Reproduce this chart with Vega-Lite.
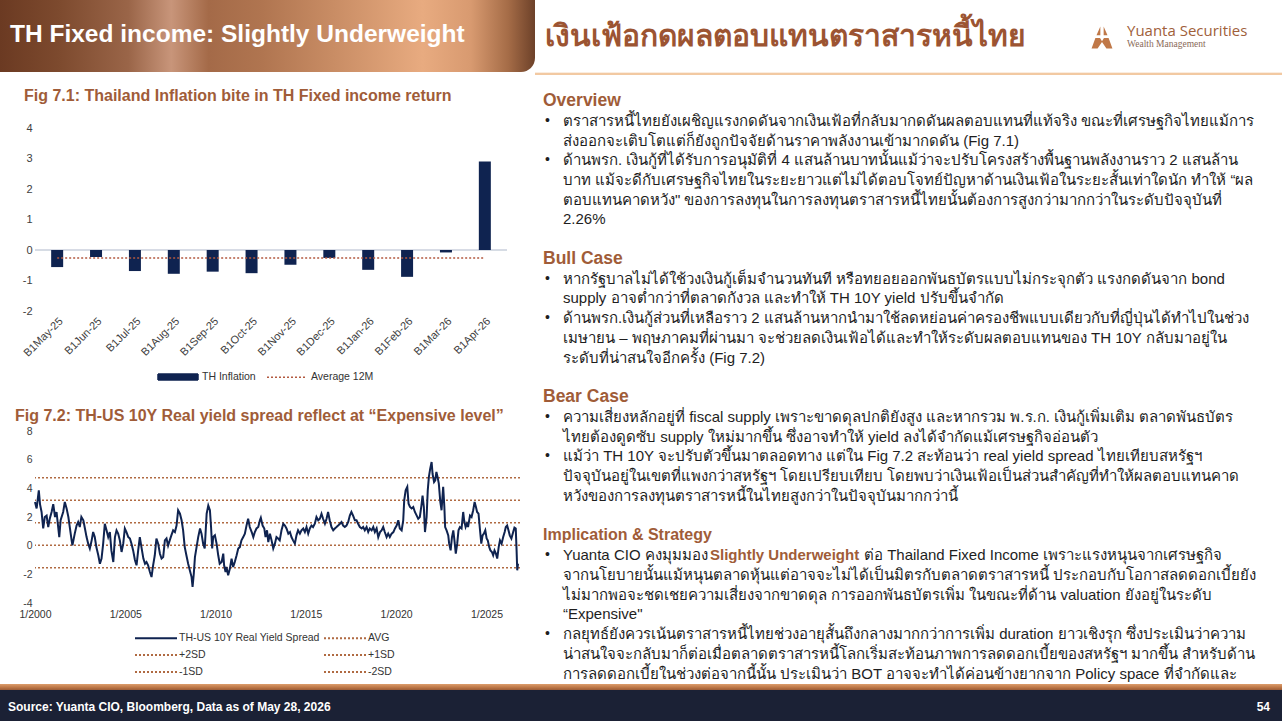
{
  "$schema": "https://vega.github.io/schema/vega-lite/v6.json",
  "background": "white",
  "padding": 0,
  "spacing": 0,
  "config": {
    "view": {"stroke": null},
    "font": "Liberation Sans",
    "axis": {"labelFont": "Liberation Sans", "labelColor": "#404040", "ticks": false, "domain": false, "grid": false, "labelOverlap": false}
  },
  "vconcat": [
    {
      "spacing": 13,
      "vconcat": [
        {
          "spacing": 0,
          "hconcat": [
            {
              "width": 535, "height": 72,
              "data": {"values": [{}]},
              "title": {"text": "TH Fixed income: Slightly Underweight", "anchor": "start", "frame": "group", "orient": "top", "offset": -47, "dx": 10, "color": "white", "fontSize": 24.5, "fontWeight": "bold", "font": "Liberation Sans"},
              "mark": {"type": "rect", "cornerRadiusBottomRight": 14, "color": {"gradient": "linear", "x1": 0, "y1": 0, "x2": 1, "y2": 0, "stops": [
                {"offset": 0, "color": "#6b3a22"}, {"offset": 0.11, "color": "#7d4a2e"}, {"offset": 0.24, "color": "#9a6548"}, {"offset": 0.32, "color": "#c8957a"}, {"offset": 0.39, "color": "#a46a48"}, {"offset": 0.49, "color": "#b07550"}, {"offset": 0.62, "color": "#c88c64"}, {"offset": 0.79, "color": "#e8ab80"}, {"offset": 0.88, "color": "#d89a70"}, {"offset": 0.95, "color": "#a56c47"}, {"offset": 1, "color": "#6d4129"}]}},
              "encoding": {}
            },
            {
              "width": 552, "height": 75,
              "data": {"values": [{}]},
              "title": {"text": "เงินเฟ้อกดผลตอบแทนตราสารหนี้ไทย", "anchor": "start", "frame": "group", "orient": "top", "offset": -52, "dx": 10, "color": "#9c5432", "fontSize": 30, "fontWeight": "bold", "font": "Liberation Sans"},
              "mark": {"type": "rect", "color": {"gradient": "linear", "x1": 0, "y1": 0, "x2": 0, "y2": 1, "stops": [{"offset": 0, "color": "#ffffff"}, {"offset": 0.965, "color": "#ffffff"}, {"offset": 0.97, "color": "#f2c9a2"}, {"offset": 1, "color": "#f2c9a2"}]}},
              "encoding": {}
            },
            {
              "width": 30, "height": 75,
              "data": {"values": [{}]},
              "layer": [
                {"mark": {"type": "rect", "color": {"gradient": "linear", "x1": 0, "y1": 0, "x2": 0, "y2": 1, "stops": [{"offset": 0, "color": "#ffffff"}, {"offset": 0.965, "color": "#ffffff"}, {"offset": 0.97, "color": "#f2c9a2"}, {"offset": 1, "color": "#f2c9a2"}]}}, "encoding": {}},
                {"mark": {"type": "point", "filled": true, "opacity": 1, "color": "#c07848", "size": 484, "shape": "M-0.15,-1L-0.5,-0.2L-0.15,-0.2Z M0.15,-1L0.5,-0.2L0.15,-0.2Z M-0.6,0.05L-0.95,1L-0.4,1L0,0.4L0.4,1L0.95,1L0.6,0.05L0.18,0.05L0,0.35L-0.18,0.05Z"}, "encoding": {}}
              ]
            },
            {
              "width": 165, "height": 75,
              "data": {"values": [{}]},
              "title": {"text": "Yuanta Securities", "subtitle": "Wealth Management", "anchor": "start", "frame": "group", "orient": "top", "offset": -48, "dx": 10, "color": "#a0603a", "fontSize": 15, "fontWeight": "normal", "font": "Open Sans", "subtitleFont": "Liberation Serif", "subtitleFontSize": 9.5, "subtitleColor": "#8a6a58", "subtitlePadding": 0},
              "mark": {"type": "rect", "color": {"gradient": "linear", "x1": 0, "y1": 0, "x2": 0, "y2": 1, "stops": [{"offset": 0, "color": "#ffffff"}, {"offset": 0.965, "color": "#ffffff"}, {"offset": 0.97, "color": "#f2c9a2"}, {"offset": 1, "color": "#f2c9a2"}]}},
              "encoding": {}
            }
          ]
        },
        {
          "spacing": 14,
          "hconcat": [
            {
              "width": 1, "height": 10,
              "data": {"values": [{}]},
              "mark": {"type": "rect", "color": "white"},
              "encoding": {}
            },
            {
              "spacing": 25,
              "bounds": "full",
              "resolve": {"scale": {"color": "independent"}, "legend": {"color": "independent"}},
              "vconcat": [
                {
                  "width": 472, "height": 183,
                  "title": {"text": "Fig 7.1: Thailand Inflation bite in TH Fixed income return", "anchor": "start", "frame": "group", "dx": -11, "offset": 18, "fontSize": 16, "fontWeight": "bold", "font": "Liberation Sans", "color": "#a05c38"},
                  "data": {"values": [
                    {"month": "B1May-25", "value": -0.56},
                    {"month": "B1Jun-25", "value": -0.23},
                    {"month": "B1Jul-25", "value": -0.69},
                    {"month": "B1Aug-25", "value": -0.78},
                    {"month": "B1Sep-25", "value": -0.71},
                    {"month": "B1Oct-25", "value": -0.76},
                    {"month": "B1Nov-25", "value": -0.48},
                    {"month": "B1Dec-25", "value": -0.26},
                    {"month": "B1Jan-26", "value": -0.65},
                    {"month": "B1Feb-26", "value": -0.88},
                    {"month": "B1Mar-26", "value": -0.08},
                    {"month": "B1Apr-26", "value": 2.9}
                  ]},
                  "layer": [
                    {"mark": {"type": "rule", "color": "#d6dbe4", "strokeWidth": 1},
                     "encoding": {"y": {"datum": 0, "type": "quantitative", "scale": {"domain": [-2, 4], "nice": false}, "axis": {"title": null, "values": [-2, -1, 0, 1, 2, 3, 4], "labelExpr": "'' + datum.value", "labelFontSize": 11, "labelPadding": 3}}}},
                    {
                      "mark": {"type": "bar", "width": 12},
                      "encoding": {
                        "x": {"field": "month", "type": "ordinal", "sort": null, "scale": {"paddingInner": 0, "paddingOuter": 0.07}, "axis": {"title": null, "labelAngle": -45, "labelFontSize": 11, "labelPadding": 4}},
                        "y": {"field": "value", "type": "quantitative", "scale": {"domain": [-2, 4], "nice": false}, "axis": {"title": null, "values": [-2, -1, 0, 1, 2, 3, 4], "labelExpr": "'' + datum.value", "labelFontSize": 11, "labelPadding": 3}},
                        "color": {"datum": "TH Inflation", "type": "nominal", "scale": {"domain": ["TH Inflation", "Average 12M"], "range": ["#0f2350", "#b35a40"]},
                          "legend": {"orient": "none", "legendX": 122, "legendY": 228, "direction": "horizontal", "title": null, "padding": 0, "labelFontSize": 10.5, "labelColor": "#333333", "labelFont": "Liberation Sans", "symbolSize": 1600, "symbolStrokeWidth": 1.5, "labelOffset": 3, "columnPadding": 8, "symbolType": "stroke",
                            "encode": {"symbols": {"update": {
                              "shape": {"signal": "datum.value === 'TH Inflation' ? 'M-1,-0.15L1,-0.15L1,0.15L-1,0.15Z' : 'stroke'"},
                              "fill": {"signal": "datum.value === 'TH Inflation' ? '#0f2350' : 'transparent'"},
                              "stroke": {"signal": "datum.value === 'TH Inflation' ? '#0f2350' : '#b35a40'"},
                              "strokeDash": {"signal": "datum.value === 'TH Inflation' ? [1,0] : [2,2]"},
                              "opacity": {"value": 1}
                            }}}}}
                      }
                    },
                    {
                      "transform": [{"joinaggregate": [{"op": "mean", "field": "value", "as": "avg"}]}],
                      "mark": {"type": "line", "strokeDash": [2, 2], "strokeWidth": 1.5},
                      "encoding": {
                        "x": {"field": "month", "type": "ordinal", "sort": null},
                        "y": {"field": "avg", "type": "quantitative", "axis": {"title": null, "values": [-2, -1, 0, 1, 2, 3, 4], "labelExpr": "'' + datum.value", "labelFontSize": 11, "labelPadding": 3}},
                        "color": {"datum": "Average 12M", "type": "nominal"}
                      }
                    }
                  ]
                },
                {
                  "width": 485, "height": 172,
                  "title": {"text": "Fig 7.2: TH-US 10Y Real yield spread reflect at “Expensive level”", "anchor": "start", "frame": "group", "dx": -20, "offset": 2, "fontSize": 16, "fontWeight": "bold", "font": "Liberation Sans", "color": "#a05c38"},
                  "layer": [
                    {
                      "data": {"values": [
                        {"name": "AVG", "value": 1.6},
                        {"name": "+2SD", "value": 4.74},
                        {"name": "+1SD", "value": 3.17},
                        {"name": "-1SD", "value": 0.03},
                        {"name": "-2SD", "value": -1.54}
                      ]},
                      "mark": {"type": "rule", "strokeDash": [2, 2], "strokeWidth": 1.5},
                      "encoding": {
                        "y": {"field": "value", "type": "quantitative", "scale": {"domain": [-4, 8], "nice": false}, "axis": {"title": null, "values": [-4, -2, 0, 2, 4, 6, 8], "labelExpr": "'' + datum.value", "labelFontSize": 10.5, "labelPadding": 3}},
                        "color": {"field": "name", "type": "nominal", "title": null,
                          "scale": {"domain": ["TH-US 10Y Real Yield Spread", "AVG", "+2SD", "+1SD", "-1SD", "-2SD"], "range": ["#0f2350", "#b06a42", "#b06a42", "#b06a42", "#b06a42", "#b06a42"]},
                          "legend": {"orient": "none", "legendX": 100, "legendY": 201, "direction": "horizontal", "columns": 2, "title": null, "padding": 0, "labelFontSize": 10.5, "labelColor": "#333333", "labelFont": "Liberation Sans", "symbolType": "M-4.2,0L4.2,0", "symbolSize": 100, "symbolStrokeWidth": 2, "symbolOffset": 15, "labelOffset": 17, "columnPadding": 0, "rowPadding": 5,
                            "encode": {"symbols": {"update": {
                              "strokeDash": {"signal": "datum.value === 'TH-US 10Y Real Yield Spread' ? [1,0] : [2,2]"},
                              "opacity": {"value": 1}
                            }}}}}
                      }
                    },
                    {
                      "data": {"values": [
{"date":"2000-01-01","value":3.05},{"date":"2000-02-03","value":2.6},{"date":"2000-03-18","value":3.86},{"date":"2000-04-11","value":2.9},{"date":"2000-05-13","value":2.35},{"date":"2000-06-15","value":1.2},{"date":"2000-07-17","value":2.0},{"date":"2000-08-23","value":2.1},{"date":"2000-09-25","value":1.3},{"date":"2000-10-27","value":1.9},{"date":"2000-12-02","value":2.35},
{"date":"2001-01-04","value":2.9},{"date":"2001-02-09","value":2.0},{"date":"2001-03-12","value":2.35},{"date":"2001-04-14","value":1.3},{"date":"2001-05-06","value":0.6},{"date":"2001-06-02","value":1.77},{"date":"2001-07-24","value":2.35},{"date":"2001-08-26","value":3.05},{"date":"2001-10-01","value":2.6},{"date":"2001-11-06","value":2.0},{"date":"2001-12-08","value":1.2},
{"date":"2002-01-11","value":0.37},{"date":"2002-01-27","value":0.02},{"date":"2002-03-15","value":0.84},{"date":"2002-04-21","value":1.4},{"date":"2002-05-23","value":1.65},{"date":"2002-06-25","value":1.3},{"date":"2002-07-27","value":2.0},{"date":"2002-09-05","value":1.77},{"date":"2002-10-07","value":1.2},{"date":"2002-11-09","value":0.6},{"date":"2002-12-12","value":0.14},
{"date":"2003-01-14","value":-0.2},{"date":"2003-02-20","value":0.37},{"date":"2003-03-22","value":0.95},{"date":"2003-04-24","value":0.6},{"date":"2003-05-26","value":-0.1},{"date":"2003-07-04","value":-0.67},{"date":"2003-08-06","value":-1.26},{"date":"2003-09-08","value":-0.9},{"date":"2003-10-11","value":0.14},{"date":"2003-11-13","value":1.53},{"date":"2003-12-18","value":1.07},
{"date":"2004-01-21","value":0.6},{"date":"2004-02-23","value":0.95},{"date":"2004-03-25","value":-0.33},{"date":"2004-05-03","value":-1.14},{"date":"2004-06-05","value":0.6},{"date":"2004-07-07","value":1.07},{"date":"2004-08-09","value":0.84},{"date":"2004-09-12","value":0.37},{"date":"2004-10-17","value":-0.44},{"date":"2004-11-20","value":0.14},{"date":"2004-12-22","value":1.2},
{"date":"2005-01-24","value":0.95},{"date":"2005-03-02","value":0.6},{"date":"2005-04-04","value":0.5},{"date":"2005-05-06","value":0.14},{"date":"2005-06-08","value":-0.33},{"date":"2005-07-14","value":-1.0},{"date":"2005-08-16","value":-1.37},{"date":"2005-09-18","value":-0.33},{"date":"2005-10-21","value":0.6},{"date":"2005-11-23","value":-0.1},
{"date":"2006-01-01","value":-0.9},{"date":"2006-02-03","value":-1.26},{"date":"2006-03-05","value":-1.14},{"date":"2006-04-07","value":-1.37},{"date":"2006-05-13","value":-1.84},{"date":"2006-06-15","value":-2.19},{"date":"2006-07-17","value":-1.37},{"date":"2006-08-20","value":-0.67},{"date":"2006-09-22","value":0.5},{"date":"2006-10-27","value":0.14},{"date":"2006-12-02","value":-0.56},
{"date":"2007-01-04","value":-0.9},{"date":"2007-02-06","value":-0.8},{"date":"2007-03-12","value":0.37},{"date":"2007-04-14","value":0.5},{"date":"2007-05-16","value":0.0},{"date":"2007-06-18","value":0.37},{"date":"2007-07-21","value":0.72},{"date":"2007-08-26","value":1.07},{"date":"2007-10-01","value":0.95},{"date":"2007-11-03","value":1.4},{"date":"2007-12-05","value":2.47},
{"date":"2008-01-11","value":2.23},{"date":"2008-02-13","value":1.77},{"date":"2008-03-15","value":1.07},{"date":"2008-04-17","value":-0.1},{"date":"2008-05-20","value":-0.67},{"date":"2008-06-25","value":-1.26},{"date":"2008-07-27","value":-1.7},{"date":"2008-09-02","value":-2.19},{"date":"2008-09-22","value":-2.88},{"date":"2008-10-17","value":-1.95},{"date":"2008-11-09","value":-0.8},{"date":"2008-12-12","value":-0.1},
{"date":"2009-01-14","value":0.6},{"date":"2009-02-20","value":1.2},{"date":"2009-03-22","value":0.84},{"date":"2009-04-24","value":0.14},{"date":"2009-05-26","value":-0.2},{"date":"2009-07-04","value":2.23},{"date":"2009-08-06","value":2.8},{"date":"2009-09-08","value":2.47},{"date":"2009-10-01","value":1.3},{"date":"2009-10-24","value":-0.2},{"date":"2009-11-13","value":0.6},{"date":"2009-12-18","value":0.72},
{"date":"2010-01-21","value":0.14},{"date":"2010-02-23","value":-0.67},{"date":"2010-03-25","value":-1.26},{"date":"2010-05-03","value":-1.14},{"date":"2010-06-05","value":-0.56},{"date":"2010-06-22","value":-1.37},{"date":"2010-07-21","value":-1.84},{"date":"2010-08-09","value":-1.49},{"date":"2010-09-12","value":-2.07},{"date":"2010-10-17","value":-1.6},{"date":"2010-11-20","value":-0.9},{"date":"2010-12-22","value":-1.49},
{"date":"2011-01-24","value":-1.14},{"date":"2011-03-02","value":-0.67},{"date":"2011-04-04","value":-0.2},{"date":"2011-05-06","value":-0.1},{"date":"2011-06-08","value":0.37},{"date":"2011-07-14","value":0.6},{"date":"2011-08-16","value":0.84},{"date":"2011-09-18","value":1.4},{"date":"2011-10-21","value":1.88},{"date":"2011-11-23","value":1.3},
{"date":"2012-01-01","value":0.95},{"date":"2012-02-03","value":0.6},{"date":"2012-03-05","value":0.95},{"date":"2012-04-07","value":1.2},{"date":"2012-05-13","value":1.3},{"date":"2012-06-15","value":1.77},{"date":"2012-07-04","value":1.95},{"date":"2012-08-09","value":1.4},{"date":"2012-09-12","value":1.2},{"date":"2012-10-07","value":0.6},{"date":"2012-11-06","value":1.07},{"date":"2012-12-02","value":0.25},
{"date":"2013-01-04","value":0.84},{"date":"2013-02-06","value":0.37},{"date":"2013-03-12","value":-0.2},{"date":"2013-04-14","value":0.14},{"date":"2013-05-16","value":0.6},{"date":"2013-06-18","value":0.5},{"date":"2013-07-21","value":0.37},{"date":"2013-08-26","value":1.07},{"date":"2013-10-01","value":1.53},{"date":"2013-11-03","value":1.4},{"date":"2013-12-05","value":1.2},
{"date":"2014-01-11","value":0.84},{"date":"2014-02-13","value":0.95},{"date":"2014-03-15","value":0.6},{"date":"2014-04-17","value":0.37},{"date":"2014-05-23","value":0.14},{"date":"2014-06-25","value":0.72},{"date":"2014-07-27","value":1.07},{"date":"2014-09-02","value":0.84},{"date":"2014-10-04","value":1.07},{"date":"2014-11-09","value":1.2},{"date":"2014-12-12","value":0.95},
{"date":"2015-01-14","value":1.3},{"date":"2015-02-17","value":0.84},{"date":"2015-03-22","value":1.2},{"date":"2015-04-24","value":1.4},{"date":"2015-05-26","value":1.3},{"date":"2015-07-01","value":1.53},{"date":"2015-08-03","value":2.0},{"date":"2015-09-08","value":1.77},{"date":"2015-10-11","value":1.88},{"date":"2015-11-13","value":2.23},{"date":"2015-12-15","value":1.88},
{"date":"2016-01-21","value":1.53},{"date":"2016-02-23","value":1.88},{"date":"2016-03-25","value":2.35},{"date":"2016-04-27","value":1.77},{"date":"2016-06-02","value":1.3},{"date":"2016-07-07","value":1.07},{"date":"2016-08-09","value":1.2},{"date":"2016-09-12","value":1.3},{"date":"2016-10-14","value":1.4},{"date":"2016-11-20","value":1.53},{"date":"2016-12-22","value":1.65},
{"date":"2017-01-24","value":1.4},{"date":"2017-02-26","value":1.3},{"date":"2017-04-01","value":1.4},{"date":"2017-05-06","value":1.65},{"date":"2017-06-08","value":2.1},{"date":"2017-07-10","value":2.35},{"date":"2017-08-13","value":2.1},{"date":"2017-09-18","value":1.77},{"date":"2017-10-21","value":1.77},{"date":"2017-11-23","value":1.53},{"date":"2017-12-28","value":1.3},
{"date":"2018-02-03","value":1.2},{"date":"2018-03-05","value":1.3},{"date":"2018-04-07","value":1.07},{"date":"2018-05-13","value":1.3},{"date":"2018-06-15","value":0.95},{"date":"2018-07-17","value":1.2},{"date":"2018-08-23","value":1.07},{"date":"2018-09-25","value":1.3},{"date":"2018-10-27","value":0.95},{"date":"2018-12-02","value":1.2},
{"date":"2019-01-04","value":0.6},{"date":"2019-02-09","value":0.95},{"date":"2019-03-12","value":1.07},{"date":"2019-04-14","value":1.3},{"date":"2019-05-16","value":0.95},{"date":"2019-06-22","value":0.6},{"date":"2019-07-24","value":0.84},{"date":"2019-08-26","value":0.6},{"date":"2019-10-01","value":0.84},{"date":"2019-11-06","value":0.95},{"date":"2019-12-08","value":1.2},
{"date":"2020-01-11","value":1.4},{"date":"2020-02-13","value":1.77},{"date":"2020-03-15","value":1.2},{"date":"2020-04-21","value":1.07},{"date":"2020-05-23","value":1.77},{"date":"2020-06-12","value":3.16},{"date":"2020-07-11","value":3.86},{"date":"2020-08-13","value":4.1},{"date":"2020-09-08","value":2.93},{"date":"2020-10-07","value":2.7},{"date":"2020-11-09","value":2.6},{"date":"2020-12-12","value":2.7},
{"date":"2021-01-14","value":2.35},{"date":"2021-02-20","value":2.1},{"date":"2021-03-22","value":1.88},{"date":"2021-04-24","value":2.0},{"date":"2021-05-26","value":2.8},{"date":"2021-06-18","value":3.5},{"date":"2021-07-14","value":2.7},{"date":"2021-08-06","value":0.95},{"date":"2021-09-08","value":2.0},{"date":"2021-10-01","value":3.86},{"date":"2021-10-24","value":4.8},{"date":"2021-11-20","value":5.37},{"date":"2021-12-18","value":5.84},
{"date":"2022-01-07","value":5.0},{"date":"2022-02-06","value":4.44},{"date":"2022-03-02","value":4.56},{"date":"2022-03-25","value":5.14},{"date":"2022-04-17","value":4.8},{"date":"2022-05-13","value":4.33},{"date":"2022-06-12","value":3.05},{"date":"2022-07-07","value":2.47},{"date":"2022-08-09","value":4.1},{"date":"2022-09-02","value":2.7},{"date":"2022-09-18","value":1.3},{"date":"2022-10-17","value":1.07},{"date":"2022-11-20","value":0.72},{"date":"2022-12-08","value":0.14},
{"date":"2023-01-07","value":-0.33},{"date":"2023-02-03","value":0.6},{"date":"2023-03-02","value":1.07},{"date":"2023-03-25","value":0.37},{"date":"2023-04-21","value":-0.56},{"date":"2023-05-20","value":0.14},{"date":"2023-06-15","value":1.07},{"date":"2023-07-14","value":1.3},{"date":"2023-08-16","value":1.2},{"date":"2023-09-18","value":2.35},{"date":"2023-10-07","value":1.77},{"date":"2023-11-06","value":1.3},{"date":"2023-12-02","value":1.53},{"date":"2023-12-25","value":1.3},
{"date":"2024-02-03","value":2.1},{"date":"2024-03-05","value":2.0},{"date":"2024-04-07","value":2.47},{"date":"2024-05-06","value":3.05},{"date":"2024-06-02","value":2.7},{"date":"2024-06-25","value":2.35},{"date":"2024-07-24","value":2.23},{"date":"2024-08-20","value":1.2},{"date":"2024-09-18","value":0.14},{"date":"2024-10-14","value":0.72},{"date":"2024-11-09","value":0.84},{"date":"2024-12-08","value":1.07},
{"date":"2025-01-04","value":0.5},{"date":"2025-01-27","value":0.37},{"date":"2025-02-26","value":-0.1},{"date":"2025-03-22","value":-0.33},{"date":"2025-04-21","value":-0.44},{"date":"2025-05-16","value":-0.67},{"date":"2025-06-12","value":-0.33},{"date":"2025-07-11","value":-0.56},{"date":"2025-08-06","value":-0.9},{"date":"2025-09-05","value":-0.1},{"date":"2025-10-01","value":0.37},{"date":"2025-11-03","value":0.14},{"date":"2025-12-05","value":0.6},
{"date":"2026-01-04","value":0.95},{"date":"2026-01-27","value":1.3},{"date":"2026-02-23","value":1.4},{"date":"2026-03-22","value":1.07},{"date":"2026-04-17","value":0.72},{"date":"2026-05-20","value":0.5},{"date":"2026-06-25","value":0.95},{"date":"2026-07-21","value":1.26},{"date":"2026-08-16","value":1.2},{"date":"2026-09-02","value":-0.33},{"date":"2026-09-15","value":-1.72},{"date":"2026-10-01","value":-1.26}
                      ]},
                      "mark": {"type": "line", "strokeWidth": 2},
                      "encoding": {
                        "x": {"field": "date", "type": "temporal", "scale": {"domain": [{"year": 2000, "month": 1, "date": 1}, {"year": 2026, "month": 11, "date": 10}]}, "axis": {"title": null, "values": [{"year": 2000, "month": 1, "date": 1}, {"year": 2005, "month": 1, "date": 1}, {"year": 2010, "month": 1, "date": 1}, {"year": 2015, "month": 1, "date": 1}, {"year": 2020, "month": 1, "date": 1}, {"year": 2025, "month": 1, "date": 1}], "format": "%-m/%Y", "labelFlush": false, "labelFontSize": 10.5, "labelPadding": 6, "labelColor": "#333333"}},
                        "y": {"field": "value", "type": "quantitative", "axis": {"title": null, "values": [-4, -2, 0, 2, 4, 6, 8], "labelExpr": "'' + datum.value", "labelFontSize": 10.5, "labelPadding": 3}},
                        "color": {"datum": "TH-US 10Y Real Yield Spread", "type": "nominal", "title": null,
                          "legend": {"orient": "none", "legendX": 100, "legendY": 201, "direction": "horizontal", "columns": 2, "title": null, "padding": 0, "labelFontSize": 10.5, "labelColor": "#333333", "labelFont": "Liberation Sans", "symbolType": "M-4.2,0L4.2,0", "symbolSize": 100, "symbolStrokeWidth": 2, "symbolOffset": 15, "labelOffset": 17, "columnPadding": 0, "rowPadding": 5,
                            "encode": {"symbols": {"update": {
                              "strokeDash": {"signal": "datum.value === 'TH-US 10Y Real Yield Spread' ? [1,0] : [2,2]"},
                              "opacity": {"value": 1}
                            }}}}}
                      }
                    }
                  ]
                }
              ]
            },
            {
              "width": 748, "height": 556,
              "data": {"values": [
                {"line": 0, "kind": "head", "text": "Overview"},
                {"line": 1, "kind": "first", "text": "ตราสารหนี้ไทยยังเผชิญแรงกดดันจากเงินเฟ้อที่กลับมากดดันผลตอบแทนที่แท้จริง ขณะที่เศรษฐกิจไทยแม้การ"},
                {"line": 2, "kind": "cont", "text": "ส่งออกจะเติบโตแต่ก็ยังถูกปัจจัยด้านราคาพลังงานเข้ามากดดัน  (Fig 7.1)"},
                {"line": 3, "kind": "first", "text": "ด้านพรก. เงินกู้ที่ได้รับการอนุมัติที่ 4 แสนล้านบาทนั้นแม้ว่าจะปรับโครงสร้างพื้นฐานพลังงานราว 2 แสนล้าน"},
                {"line": 4, "kind": "cont", "text": "บาท แม้จะดีกับเศรษฐกิจไทยในระยะยาวแต่ไม่ได้ตอบโจทย์ปัญหาด้านเงินเฟ้อในระยะสั้นเท่าใดนัก ทำให้ “ผล"},
                {"line": 5, "kind": "cont", "text": "ตอบแทนคาดหวัง\" ของการลงทุนในการลงทุนตราสารหนี้ไทยนั้นต้องการสูงกว่ามากกว่าในระดับปัจจุบันที่"},
                {"line": 6, "kind": "cont", "text": "2.26%"},
                {"line": 8, "kind": "head", "text": "Bull Case"},
                {"line": 9, "kind": "first", "text": "หากรัฐบาลไม่ได้ใช้วงเงินกู้เต็มจำนวนทันที หรือทยอยออกพันธบัตรแบบไม่กระจุกตัว แรงกดดันจาก bond"},
                {"line": 10, "kind": "cont", "text": "supply อาจต่ำกว่าที่ตลาดกังวล และทำให้ TH 10Y yield ปรับขึ้นจำกัด"},
                {"line": 11, "kind": "first", "text": "ด้านพรก.เงินกู้ส่วนที่เหลือราว 2 แสนล้านหากนำมาใช้ลดหย่อนค่าครองชีพแบบเดียวกับที่ญี่ปุ่นได้ทำไปในช่วง"},
                {"line": 12, "kind": "cont", "text": "เมษายน – พฤษภาคมที่ผ่านมา จะช่วยลดเงินเฟ้อได้และทำให้ระดับผลตอบแทนของ TH 10Y กลับมาอยู่ใน"},
                {"line": 13, "kind": "cont", "text": "ระดับที่น่าสนใจอีกครั้ง (Fig 7.2)"},
                {"line": 15, "kind": "head", "text": "Bear Case"},
                {"line": 16, "kind": "first", "text": "ความเสี่ยงหลักอยู่ที่ fiscal supply เพราะขาดดุลปกติยังสูง และหากรวม พ.ร.ก. เงินกู้เพิ่มเติม ตลาดพันธบัตร"},
                {"line": 17, "kind": "cont", "text": "ไทยต้องดูดซับ supply ใหม่มากขึ้น ซึ่งอาจทำให้ yield ลงได้จำกัดแม้เศรษฐกิจอ่อนตัว"},
                {"line": 18, "kind": "first", "text": "แม้ว่า TH 10Y จะปรับตัวขึ้นมาตลอดทาง แต่ใน Fig 7.2 สะท้อนว่า real yield spread ไทยเทียบสหรัฐฯ"},
                {"line": 19, "kind": "cont", "text": "ปัจจุบันอยู่ในเขตที่แพงกว่าสหรัฐฯ โดยเปรียบเทียบ โดยพบว่าเงินเฟ้อเป็นส่วนสำคัญที่ทำให้ผลตอบแทนคาด"},
                {"line": 20, "kind": "cont", "text": "หวังของการลงทุนตราสารหนี้ในไทยสูงกว่าในปัจจุบันมากกว่านี้"},
                {"line": 22, "kind": "head2", "text": "Implication & Strategy"},
                {"line": 23, "kind": "first", "text": "Yuanta CIO คงมุมมอง"},
                {"line": 23, "kind": "hl", "text": "Slightly Underweight"},
                {"line": 23, "kind": "rest", "text": "ต่อ Thailand Fixed Income เพราะแรงหนุนจากเศรษฐกิจ"},
                {"line": 24, "kind": "cont", "text": "จากนโยบายนั้นแม้หนุนตลาดหุ้นแต่อาจจะไม่ได้เป็นมิตรกับตลาดตราสารหนี้ ประกอบกับโอกาสลดดอกเบี้ยยัง"},
                {"line": 25, "kind": "cont", "text": "ไม่มากพอจะชดเชยความเสี่ยงจากขาดดุล การออกพันธบัตรเพิ่ม ในขณะที่ด้าน valuation ยังอยู่ในระดับ"},
                {"line": 26, "kind": "cont", "text": "“Expensive\""},
                {"line": 27, "kind": "first", "text": "กลยุทธ์ยังควรเน้นตราสารหนี้ไทยช่วงอายุสั้นถึงกลางมากกว่าการเพิ่ม duration ยาวเชิงรุก ซึ่งประเมินว่าความ"},
                {"line": 28, "kind": "cont", "text": "น่าสนใจจะกลับมาก็ต่อเมื่อตลาดตราสารหนี้โลกเริ่มสะท้อนภาพการลดดอกเบี้ยของสหรัฐฯ มากขึ้น สำหรับด้าน"},
                {"line": 29, "kind": "cont", "text": "การลดดอกเบี้ยในช่วงต่อจากนี้นั้น ประเมินว่า BOT อาจจะทำได้ค่อนข้างยากจาก Policy space ที่จำกัดและ"}
              ]},
              "encoding": {
                "y": {"field": "line", "type": "quantitative", "scale": {"domain": [1.367, 29.52], "reverse": true, "nice": false, "zero": false}, "axis": null},
                "text": {"field": "text"}
              },
              "layer": [
                {"transform": [{"filter": "datum.kind === 'head'"}], "mark": {"type": "text", "align": "left", "baseline": "middle", "font": "Liberation Sans", "fontWeight": "bold", "fontSize": 17.5, "color": "#a05c38"},
                 "encoding": {"x": {"datum": 6, "type": "quantitative", "scale": {"domain": [0, 748], "nice": false, "zero": false}, "axis": null}}},
                {"transform": [{"filter": "datum.kind === 'head2'"}], "mark": {"type": "text", "align": "left", "baseline": "middle", "font": "Liberation Sans", "fontWeight": "bold", "fontSize": 16, "color": "#a05c38"},
                 "encoding": {"x": {"datum": 6, "type": "quantitative"}}},
                {"transform": [{"filter": "datum.kind === 'first' || datum.kind === 'cont'"}], "mark": {"type": "text", "align": "left", "baseline": "middle", "font": "Liberation Sans", "fontSize": 15, "color": "#1e1e1e"},
                 "encoding": {"x": {"datum": 26, "type": "quantitative"}}},
                {"transform": [{"filter": "datum.kind === 'hl'"}], "mark": {"type": "text", "align": "left", "baseline": "middle", "font": "Liberation Sans", "fontWeight": "bold", "fontSize": 15, "color": "#a05c38"},
                 "encoding": {"x": {"datum": 173, "type": "quantitative"}}},
                {"transform": [{"filter": "datum.kind === 'rest'"}], "mark": {"type": "text", "align": "left", "baseline": "middle", "font": "Liberation Sans", "fontSize": 15, "color": "#1e1e1e"},
                 "encoding": {"x": {"datum": 327, "type": "quantitative"}}},
                {"transform": [{"filter": "datum.kind === 'first'"}], "mark": {"type": "text", "align": "left", "baseline": "middle", "font": "Liberation Sans", "fontSize": 14, "color": "#1e1e1e"},
                 "encoding": {"x": {"datum": 8, "type": "quantitative"}, "text": {"value": "•"}}}
              ]
            }
          ]
        }
      ]
    },
    {
      "spacing": 0,
      "hconcat": [
        {
          "width": 1240, "height": 39,
          "data": {"values": [{}]},
          "title": {"text": "Source: Yuanta CIO, Bloomberg, Data as of May 28, 2026", "anchor": "start", "frame": "group", "orient": "top", "offset": -30, "dx": 8, "color": "white", "fontSize": 12, "fontWeight": "bold", "font": "Liberation Sans"},
          "mark": {"type": "rect", "color": {"gradient": "linear", "x1": 0, "y1": 0, "x2": 0, "y2": 1, "stops": [{"offset": 0, "color": "#dc9d6c"}, {"offset": 0.08, "color": "#c07a4a"}, {"offset": 0.15, "color": "#9c5c36"}, {"offset": 0.16, "color": "#1b2135"}, {"offset": 1, "color": "#1b2135"}]}},
          "encoding": {}
        },
        {
          "width": 42, "height": 39,
          "data": {"values": [{}]},
          "title": {"text": "54", "anchor": "end", "frame": "group", "orient": "top", "offset": -30, "dx": -12, "color": "white", "fontSize": 12, "fontWeight": "bold", "font": "Liberation Sans"},
          "mark": {"type": "rect", "color": {"gradient": "linear", "x1": 0, "y1": 0, "x2": 0, "y2": 1, "stops": [{"offset": 0, "color": "#dc9d6c"}, {"offset": 0.08, "color": "#c07a4a"}, {"offset": 0.15, "color": "#9c5c36"}, {"offset": 0.16, "color": "#1b2135"}, {"offset": 1, "color": "#1b2135"}]}},
          "encoding": {}
        }
      ]
    }
  ]
}
